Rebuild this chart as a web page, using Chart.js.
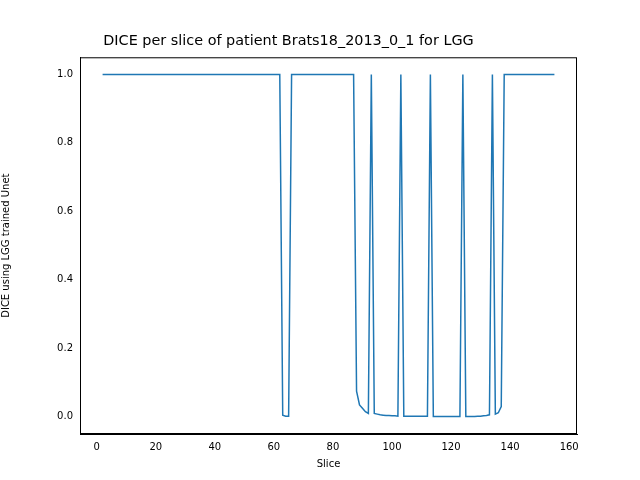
<!DOCTYPE html>
<html><head><meta charset="utf-8">
<script src="https://cdn.jsdelivr.net/npm/chart.js@4"></script>
<style>html,body{margin:0;background:#fff}</style>
</head><body><canvas id="c" width="640" height="480"></canvas>
<script>
const slices = [];
for (let s = 2; s <= 155; s++) slices.push(s);
const lowValues = {
  63:0.005,64:0.002,65:0.002,
  88:0.075,89:0.035,90:0.025,91:0.015,92:0.01,
  94:0.01,95:0.008,96:0.006,97:0.005,98:0.004,99:0.004,100:0.003,101:0.003,102:0.002,
  104:0.002,105:0.002,106:0.002,107:0.002,108:0.002,109:0.002,110:0.002,111:0.002,112:0.002,
  114:0.001,115:0.001,116:0.001,117:0.001,118:0.001,119:0.001,120:0.001,121:0.001,122:0.001,123:0.001,
  125:0.001,126:0.001,127:0.001,128:0.001,129:0.002,130:0.002,131:0.003,132:0.004,133:0.006,
  135:0.008,136:0.012,137:0.03
};
const dice = slices.map(s => lowValues[s] !== undefined ? lowValues[s] : 1.0);
const xTicks = [0,20,40,60,80,100,120,140,160];
const yTicks = [0.0,0.2,0.4,0.6,0.8,1.0];
const F = "'DejaVu Sans'";
new Chart(document.getElementById('c'), {
  type: 'line',
  data: { datasets: [{ data: slices.map((s,i)=>({x:s,y:dice[i]})), borderColor:'#1f77b4', borderWidth:1.5, pointRadius:0, tension:0 }] },
  options: {
    responsive:false, animation:false, devicePixelRatio:1,
    layout:{padding:{left:0,right:63,top:0,bottom:4}},
    plugins:{legend:{display:false},tooltip:{enabled:false},
      title:{display:true,text:'DICE per slice of patient Brats18_2013_0_1 for LGG',color:'#000',font:{family:F,size:14.4,weight:'normal'},padding:{top:33,bottom:7}}},
    scales:{
      x:{type:'linear',min:-5.65,max:162.65,
        afterBuildTicks:a=>{a.ticks=xTicks.map(v=>({value:v}));},
        grid:{display:false,drawTicks:true,tickLength:4,tickColor:'#000'},
        border:{color:'#000'},
        ticks:{color:'#000',font:{family:F,size:10},maxRotation:0,autoSkip:false,padding:3},
        title:{display:true,text:'Slice',color:'#000',font:{family:F,size:10},padding:{top:2,bottom:6}}},
      y:{type:'linear',min:-0.05,max:1.05,
        afterBuildTicks:a=>{a.ticks=yTicks.map(v=>({value:v}));},
        afterFit:a=>{a.width=80;},
        grid:{display:false,drawTicks:true,tickLength:4,tickColor:'#000'},
        border:{color:'#000'},
        ticks:{color:'#000',font:{family:F,size:10},autoSkip:false,padding:3,callback:v=>v.toFixed(1)},
        title:{display:true,text:'DICE using LGG trained Unet',color:'#000',font:{family:F,size:10},padding:{top:0,bottom:6}}}
    }
  },
  plugins:[{id:'frame',afterDraw(c){const a=c.chartArea,x=c.ctx;x.save();x.strokeStyle='#000';x.lineWidth=1;x.strokeRect(a.left+0.5,a.top+0.5,a.width-1,a.height-1);x.restore();}}]
});
</script>
</body></html>
